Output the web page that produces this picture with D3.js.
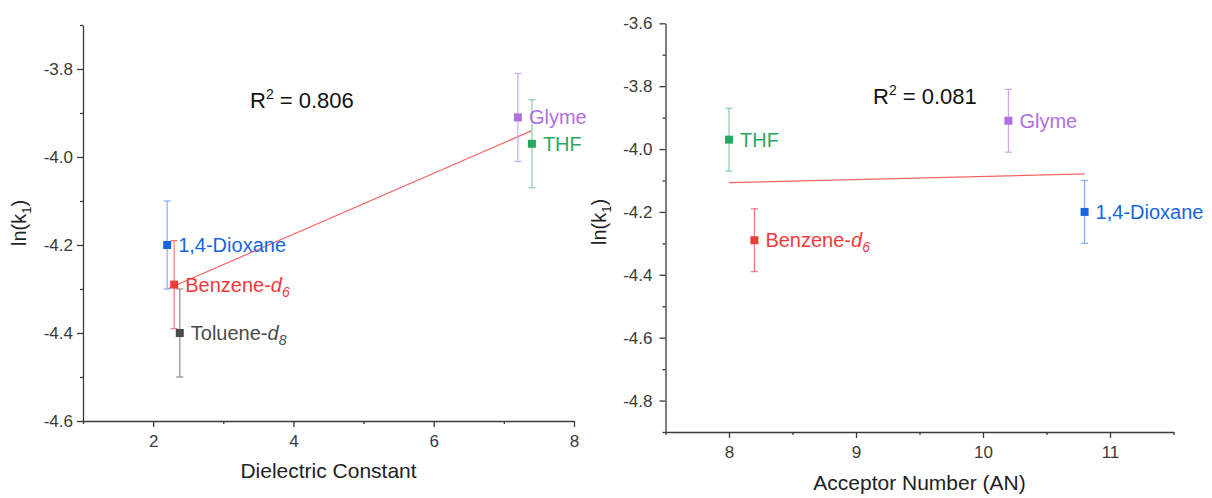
<!DOCTYPE html>
<html>
<head>
<meta charset="utf-8">
<script src="https://cdn.jsdelivr.net/npm/d3@7"></script>
<style>
  body { margin: 0; background: #fff; }
  svg text { font-family: "Liberation Sans", Arial, sans-serif; }
  .axis path, .axis line { stroke: #3a3a3a; stroke-width: 1.3; }
</style>
</head>
<body>
<svg id="chart" width="1212" height="498"></svg>
<script>
// solvents, in the order of the picture
const solvents = ['1,4-Dioxane', 'Benzene', 'Toluene', 'Glyme', 'THF'];
const lnK1 = [-4.20, -4.29, -4.40, -3.91, -3.97];
const lnK1Err = [0.10, 0.10, 0.10, 0.10, 0.10];
const dielectric = [2.2, 2.3, 2.38, 7.2, 7.4];
// acceptor number (toluene not in the right panel)
const acceptorNum = [10.8, 8.2, null, 10.2, 8.0];
const subscripts = ['', '6', '8', '', ''];
const markerColors = ['#1766dc', '#f03a3a', '#4a4a4a', '#b06fdf', '#2aa862'];
const errColors = ['#86aef0', '#f27a7a', '#8a8a8a', '#cfa6ef', '#86cfa2'];

// fit lines
const fitLeft = [[2.2, -4.30], [7.4, -3.94]];
const fitRight = [[8.0, -4.107], [10.8, -4.079]];
const r2Values = ['0.806', '0.081'];

const leftXTicks = [2, 4, 6, 8];
const leftXMinor = [1, 3, 5, 7];
const leftYTicks = [-3.8, -4.0, -4.2, -4.4, -4.6];
const leftYMinor = [-3.7, -3.9, -4.1, -4.3, -4.5];
const rightXTicks = [8, 9, 10, 11];
const rightXMinor = [7.5, 8.5, 9.5, 10.5, 11.5];
const rightYTicks = [-3.6, -3.8, -4.0, -4.2, -4.4, -4.6, -4.8];
const rightYMinor = [-3.7, -3.9, -4.1, -4.3, -4.5, -4.7, -4.9];

const svg = d3.select('#chart');

function styleTicks(sel) {
    sel.selectAll('text')
        .style('font-size', '17px')
        .style('font-family', '"Liberation Sans", Arial, sans-serif')
        .style('fill', '#3a3a3a');
}

function drawPanel(opt) {
    const x = d3.scaleLinear().domain(opt.xDomain).range(opt.xRange);
    const y = d3.scaleLinear().domain(opt.yDomain).range(opt.yRange);
    const g = svg.append('g');

    // axes: major + minor ticks
    g.append('g').attr('class', 'axis')
        .attr('transform', `translate(0,${opt.yRange[0]})`)
        .call(d3.axisBottom(x).tickValues(opt.xTicks).tickSize(6).tickSizeOuter(0).tickPadding(8)
            .tickFormat(d3.format('d')))
        .call(styleTicks);
    g.append('g').attr('class', 'axis')
        .attr('transform', `translate(0,${opt.yRange[0]})`)
        .call(d3.axisBottom(x).tickValues(opt.xMinor).tickSize(3).tickSizeOuter(0).tickFormat(''))
        .select('.domain').remove();
    g.append('g').attr('class', 'axis')
        .attr('transform', `translate(${opt.xRange[0]},0)`)
        .call(d3.axisLeft(y).tickValues(opt.yTicks).tickSize(6).tickSizeOuter(0).tickPadding(opt.yPad)
            .tickFormat(d => d3.format('.1f')(d).replace('−', '-')))
        .call(styleTicks);
    g.append('g').attr('class', 'axis')
        .attr('transform', `translate(${opt.xRange[0]},0)`)
        .call(d3.axisLeft(y).tickValues(opt.yMinor).tickSize(3).tickSizeOuter(0).tickFormat(''))
        .select('.domain').remove();

    // axis titles
    g.append('text')
        .attr('x', (opt.xRange[0] + opt.xRange[1]) / 2 + opt.xTitleShift)
        .attr('y', opt.xTitleY)
        .attr('text-anchor', 'middle')
        .attr('font-size', opt.xTitleSize).attr('fill', '#222')
        .text(opt.xTitle);
    const yt = g.append('text')
        .attr('transform', `translate(${opt.yTitleX},${opt.yTitleY}) rotate(-90)`)
        .attr('text-anchor', 'middle')
        .attr('font-size', 20).attr('fill', '#222');
    yt.append('tspan').text('ln(k');
    yt.append('tspan').attr('font-size', 13).attr('dy', 5).text('1');
    yt.append('tspan').attr('dy', -5).text(')');

    // fit line
    g.append('path')
        .datum(opt.fit)
        .attr('fill', 'none')
        .attr('stroke', '#f26464')
        .attr('stroke-width', 1.2)
        .attr('d', d3.line().x(d => x(d[0])).y(d => y(d[1])));

    const pts = solvents.map((s, i) => ({
        name: s, xv: opt.xs[i], yv: lnK1[i], err: lnK1Err[i],
        sub: subscripts[i], c: markerColors[i], ec: errColors[i]
    })).filter(d => d.xv != null);

    // error bars
    const eb = g.append('g').selectAll('g').data(pts).enter().append('g')
        .attr('stroke', d => d.ec).attr('stroke-width', 1.2);
    eb.append('line')
        .attr('x1', d => x(d.xv)).attr('x2', d => x(d.xv))
        .attr('y1', d => y(d.yv + d.err)).attr('y2', d => y(d.yv - d.err));
    eb.append('line')
        .attr('x1', d => x(d.xv) - 3.5).attr('x2', d => x(d.xv) + 3.5)
        .attr('y1', d => y(d.yv + d.err)).attr('y2', d => y(d.yv + d.err));
    eb.append('line')
        .attr('x1', d => x(d.xv) - 3.5).attr('x2', d => x(d.xv) + 3.5)
        .attr('y1', d => y(d.yv - d.err)).attr('y2', d => y(d.yv - d.err));

    // square markers
    g.append('g').selectAll('rect').data(pts).enter().append('rect')
        .attr('x', d => x(d.xv) - 4).attr('y', d => y(d.yv) - 4)
        .attr('width', 8).attr('height', 8)
        .attr('fill', d => d.c);

    // point labels
    const lab = g.append('g').selectAll('text').data(pts).enter().append('text')
        .attr('x', d => x(d.xv) + 11)
        .attr('y', d => y(d.yv) + 7)
        .attr('font-size', 20)
        .attr('fill', d => d.c);
    lab.each(function(d) {
        const t = d3.select(this);
        if (d.sub) {
            t.append('tspan').text(d.name + '-');
            t.append('tspan').attr('font-style', 'italic').text('d');
            t.append('tspan').attr('font-style', 'italic').attr('font-size', 14).attr('dy', 5).text(d.sub);
        } else {
            t.text(d.name);
        }
    });

    // R² annotation
    const r2 = g.append('text')
        .attr('x', opt.r2X).attr('y', opt.r2Y)
        .attr('font-family', '"Open Sans", sans-serif')
        .attr('font-size', 22).attr('fill', '#111');
    r2.append('tspan').text('R');
    r2.append('tspan').attr('font-size', 14).attr('dy', -9).text('2');
    r2.append('tspan').attr('dy', 9).text(' = ' + opt.r2);
}

drawPanel({
    xDomain: [1, 8], xRange: [83, 574],
    yDomain: [-4.6, -3.7], yRange: [421, 25],
    xTicks: leftXTicks, xMinor: leftXMinor, yTicks: leftYTicks, yMinor: leftYMinor,
    yPad: 4,
    xs: dielectric, fit: fitLeft,
    xTitle: 'Dielectric Constant', xTitleShift: 0, xTitleY: 478, xTitleSize: 21,
    yTitleX: 26, yTitleY: 223,
    r2: r2Values[0], r2X: 250, r2Y: 108
});

drawPanel({
    xDomain: [7.5, 11.5], xRange: [665.5, 1173.5],
    yDomain: [-4.9, -3.6], yRange: [432, 23.3],
    xTicks: rightXTicks, xMinor: rightXMinor, yTicks: rightYTicks, yMinor: rightYMinor,
    yPad: 7,
    xs: acceptorNum, fit: fitRight,
    xTitle: 'Acceptor Number (AN)', xTitleShift: 0, xTitleY: 490, xTitleSize: 21,
    yTitleX: 606, yTitleY: 222,
    r2: r2Values[1], r2X: 873, r2Y: 104
});
</script>
</body>
</html>
